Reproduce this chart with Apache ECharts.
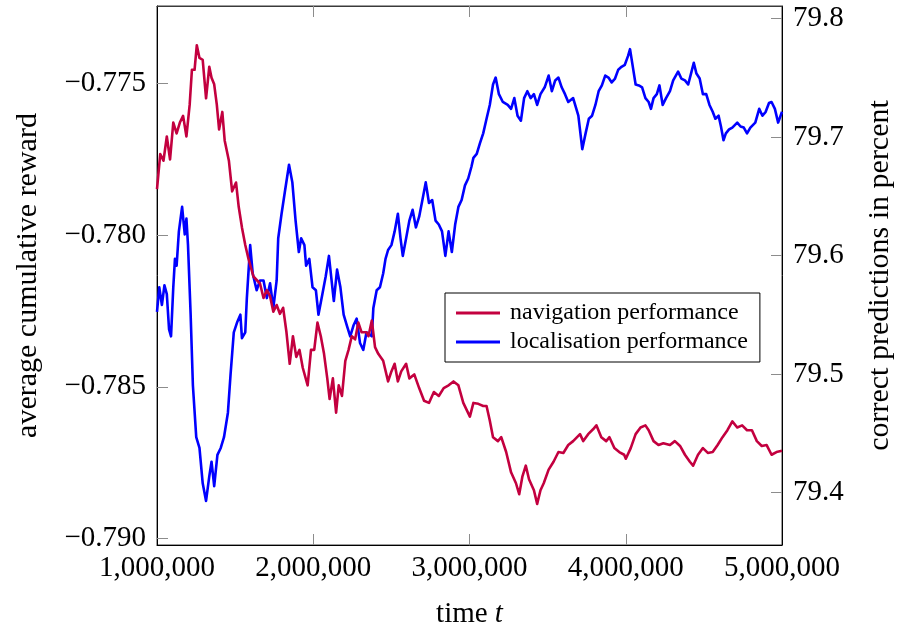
<!DOCTYPE html>
<html>
<head>
<meta charset="utf-8">
<script src="https://cdn.jsdelivr.net/npm/echarts@6/dist/echarts.min.js"></script>
<style>
  html, body { margin: 0; padding: 0; background: #fff; }
  #chart { width: 903px; height: 634px; }
</style>
</head>
<body>
<div id="chart"></div>
<script>
// Navigation performance: average cumulative reward over training time
const navTime = [
  1000000, 1020700, 1041400, 1062800, 1083500, 1104200, 1125500, 1146300, 1167000, 1188300,
  1209000, 1223500, 1240400, 1254800, 1271800, 1292500, 1313900, 1334600, 1349000, 1366000,
  1382900, 1397300, 1418000, 1433100, 1460100, 1480800, 1505900, 1522900, 1543600, 1564900,
  1585600, 1617000, 1659100, 1681700, 1703000, 1723700, 1744500, 1765800, 1786500, 1807200,
  1828600, 1849300, 1870000, 1891300, 1912000, 1932800, 1964100, 1985500, 2006200, 2026900,
  2048300, 2069000, 2089700, 2104800, 2125500, 2146200, 2163100, 2183800, 2205200, 2225900,
  2246600, 2268000, 2288700, 2309400, 2340800, 2353300, 2374700, 2395400, 2416100, 2447500,
  2478900, 2500200, 2520900, 2541600, 2563000, 2594400, 2615100, 2646500, 2677800, 2709200,
  2740600, 2772000, 2803400, 2834800, 2866200, 2897500, 2928900, 2960300, 3002400, 3025000,
  3056300, 3087700, 3109100, 3129800, 3150500, 3181900, 3203200, 3234600, 3266000, 3297400,
  3318100, 3338800, 3360200, 3380900, 3412300, 3433000, 3454300, 3475000, 3506400, 3537800,
  3569200, 3600600, 3632000, 3663300, 3707300, 3728000, 3759400, 3790800, 3812100, 3843500,
  3874900, 3895600, 3927000, 3958400, 3989700, 4000400, 4031800, 4063200, 4094600, 4125900,
  4146700, 4178000, 4209400, 4240800, 4282900, 4314300, 4347500, 4378900, 4410300, 4431000,
  4462400, 4493800, 4525200, 4556500, 4587900, 4619300, 4650700, 4682100, 4713500, 4744900,
  4776200, 4807600, 4839000, 4870400, 4901800, 4933200, 4964600, 5000000
];
const navReward = [
  -0.77848, -0.77732, -0.77754, -0.77674, -0.77750, -0.77628, -0.77664, -0.77628, -0.77606, -0.77674,
  -0.77570, -0.77454, -0.77454, -0.77373, -0.77415, -0.77421, -0.77548, -0.77444, -0.77480, -0.77502,
  -0.77570, -0.77651, -0.77593, -0.77687, -0.77754, -0.77855, -0.77826, -0.77906, -0.77974, -0.78032,
  -0.78078, -0.78136, -0.78159, -0.78207, -0.78181, -0.78201, -0.78252, -0.78230, -0.78259, -0.78239,
  -0.78320, -0.78424, -0.78333, -0.78401, -0.78378, -0.78437, -0.78495, -0.78378, -0.78378, -0.78288,
  -0.78333, -0.78391, -0.78472, -0.78540, -0.78472, -0.78585, -0.78495, -0.78530, -0.78414, -0.78378,
  -0.78333, -0.78343, -0.78288, -0.78320, -0.78320, -0.78333, -0.78281, -0.78369, -0.78391, -0.78414,
  -0.78482, -0.78449, -0.78424, -0.78482, -0.78449, -0.78424, -0.78472, -0.78459, -0.78504, -0.78546,
  -0.78553, -0.78517, -0.78530, -0.78504, -0.78495, -0.78482, -0.78495, -0.78553, -0.78598, -0.78553,
  -0.78556, -0.78563, -0.78563, -0.78611, -0.78666, -0.78679, -0.78666, -0.78715, -0.78782, -0.78818,
  -0.78854, -0.78795, -0.78760, -0.78805, -0.78841, -0.78886, -0.78841, -0.78818, -0.78773, -0.78747,
  -0.78715, -0.78718, -0.78692, -0.78679, -0.78656, -0.78679, -0.78656, -0.78640, -0.78627, -0.78666,
  -0.78679, -0.78666, -0.78702, -0.78715, -0.78724, -0.78737, -0.78702, -0.78656, -0.78634, -0.78627,
  -0.78643, -0.78679, -0.78692, -0.78686, -0.78692, -0.78679, -0.78695, -0.78724, -0.78747, -0.78760,
  -0.78724, -0.78702, -0.78718, -0.78715, -0.78692, -0.78666, -0.78643, -0.78614, -0.78634, -0.78627,
  -0.78643, -0.78643, -0.78679, -0.78695, -0.78692, -0.78724, -0.78715, -0.78711
];

// Localisation performance: correct predictions in percent
const locTime = [
  1000000, 1014400, 1031400, 1047700, 1062800, 1077200, 1089800, 1104200, 1114900, 1125500,
  1140000, 1160700, 1177600, 1188300, 1198400, 1215300, 1229700, 1251100, 1271800, 1292500,
  1313900, 1334600, 1349000, 1366000, 1386700, 1408000, 1428700, 1453800, 1470800, 1491500,
  1512200, 1533500, 1543600, 1564900, 1575000, 1596300, 1612600, 1637700, 1659100, 1681700,
  1703000, 1723700, 1744500, 1765800, 1775800, 1797200, 1817900, 1844900, 1866200, 1886900,
  1907700, 1922700, 1943400, 1954100, 1974800, 1995500, 2016900, 2033200, 2058300, 2079600,
  2100400, 2117300, 2131700, 2152500, 2173800, 2194500, 2215200, 2236600, 2257300, 2278000,
  2299300, 2320100, 2340800, 2374700, 2384700, 2406000, 2426800, 2447500, 2462500, 2478900,
  2500200, 2520900, 2541600, 2558600, 2573000, 2594400, 2615100, 2635800, 2657100, 2677800,
  2698600, 2719900, 2740600, 2761300, 2782700, 2803400, 2824100, 2845400, 2866200, 2886900,
  2908200, 2928900, 2949600, 2971000, 2991700, 3012400, 3025000, 3046300, 3067000, 3087700,
  3109100, 3129800, 3150500, 3167400, 3188200, 3213300, 3244700, 3266000, 3286700, 3307400,
  3328800, 3349500, 3370200, 3391500, 3412300, 3433000, 3454300, 3481300, 3506400, 3527100,
  3548500, 3569200, 3589900, 3611200, 3632000, 3663300, 3696600, 3721700, 3743000, 3763800,
  3784500, 3805800, 3826500, 3847200, 3868600, 3889300, 3910000, 3931400, 3952100, 3972800,
  3994100, 4014800, 4027400, 4048100, 4063200, 4083900, 4104600, 4125900, 4146700, 4161100,
  4178000, 4198800, 4215700, 4236400, 4257800, 4282900, 4303600, 4335000, 4355700, 4378900,
  4399600, 4421000, 4435400, 4452400, 4473100, 4493800, 4515100, 4535800, 4556500, 4573500,
  4594200, 4609300, 4625600, 4640700, 4661400, 4682100, 4713500, 4734800, 4755500, 4776200,
  4797600, 4829000, 4854100, 4874800, 4895500, 4916800, 4933200, 4954500, 4975200, 5000000
];
const locAccuracy = [
  79.5525, 79.5732, 79.5583, 79.5749, 79.5674, 79.5376, 79.5318, 79.5732, 79.5972, 79.5914,
  79.6204, 79.6411, 79.6179, 79.6312, 79.6088, 79.5501, 79.4905, 79.4466, 79.4375, 79.4077,
  79.3928, 79.4135, 79.4259, 79.4052, 79.4317, 79.4375, 79.4466, 79.4673, 79.4996, 79.5352,
  79.5434, 79.5501, 79.5302, 79.5352, 79.5641, 79.6088, 79.5848, 79.5707, 79.5790, 79.5790,
  79.5641, 79.5765, 79.5558, 79.5790, 79.6146, 79.6353, 79.6535, 79.6767, 79.6618, 79.6295,
  79.6030, 79.6146, 79.6088, 79.5914, 79.5972, 79.5732, 79.5707, 79.5501, 79.5674, 79.5823,
  79.5997, 79.5790, 79.5616, 79.5881, 79.5732, 79.5501, 79.5409, 79.5318, 79.5409, 79.5467,
  79.5261, 79.5203, 79.5352, 79.5318, 79.5558, 79.5707, 79.5732, 79.5848, 79.5972, 79.6047,
  79.6088, 79.6204, 79.6353, 79.6146, 79.5997, 79.6146, 79.6295, 79.6386, 79.6237, 79.6328,
  79.6469, 79.6618, 79.6444, 79.6469, 79.6295, 79.6262, 79.6204, 79.5997, 79.6204, 79.6030,
  79.6262, 79.6411, 79.6469, 79.6593, 79.6651, 79.6750, 79.6825, 79.6858, 79.6949, 79.7032,
  79.7156, 79.7272, 79.7445, 79.7503, 79.7363, 79.7297, 79.7272, 79.7239, 79.7330, 79.7181,
  79.7139, 79.7330, 79.7388, 79.7330, 79.7363, 79.7272, 79.7363, 79.7421, 79.7520, 79.7388,
  79.7479, 79.7503, 79.7421, 79.7363, 79.7297, 79.7330, 79.7181, 79.6899, 79.7032, 79.7156,
  79.7181, 79.7272, 79.7388, 79.7437, 79.7520, 79.7503, 79.7462, 79.7495, 79.7570, 79.7594,
  79.7611, 79.7686, 79.7743, 79.7570, 79.7445, 79.7437, 79.7421, 79.7330, 79.7297, 79.7239,
  79.7330, 79.7363, 79.7437, 79.7272, 79.7330, 79.7388, 79.7479, 79.7553, 79.7495, 79.7479,
  79.7445, 79.7553, 79.7628, 79.7537, 79.7495, 79.7363, 79.7363, 79.7272, 79.7214, 79.7156,
  79.7181, 79.7090, 79.6974, 79.7032, 79.7065, 79.7081, 79.7123, 79.7090, 79.7081, 79.7032,
  79.7081, 79.7123, 79.7239, 79.7181, 79.7214, 79.7288, 79.7297, 79.7239, 79.7123, 79.7214
];

// Axis ticks
const timeTicks = [1000000, 2000000, 3000000, 4000000, 5000000];
const rewardTicks = [-0.790, -0.785, -0.780, -0.775];
const accuracyTicks = [79.4, 79.5, 79.6, 79.7, 79.8];

const seriesNames = ['navigation performance', 'localisation performance'];

const FONT = '"Liberation Serif", "Times New Roman", serif';
const RED = '#C3003F';
const BLUE = '#0000FF';
const TICK_GREY = '#8c8c8c';

const zip = (xs, ys) => xs.map((x, i) => [x, ys[i]]);
const innerTimeTicks = timeTicks.slice(1, -1);

const chart = echarts.init(document.getElementById('chart'), null, { renderer: 'canvas' });

chart.setOption({
  animation: false,
  backgroundColor: '#ffffff',
  grid: {
    left: 157, right: 109, top: 6, bottom: 78,
    show: true, borderColor: '#3a3a3a', borderWidth: 1, backgroundColor: 'transparent'
  },
  legend: {
    data: seriesNames,
    orient: 'vertical',
    left: 445, top: 293,
    backgroundColor: '#ffffff',
    borderColor: '#000000', borderWidth: 1, borderRadius: 0,
    padding: [8, 12, 8, 11],
    itemGap: 5,
    itemWidth: 44, itemHeight: 3,
    icon: 'rect',
    textStyle: { fontFamily: FONT, fontSize: 24, lineHeight: 24, color: '#000', padding: [0, 0, 0, 5] }
  },
  xAxis: [
    {
      type: 'value', position: 'bottom',
      min: 1000000, max: 5000000, interval: 1000000,
      name: 'time {it|t}',
      nameLocation: 'middle', nameGap: 55,
      nameTextStyle: {
        fontFamily: FONT, fontSize: 29, color: '#000',
        rich: { it: { fontFamily: FONT, fontSize: 29, fontStyle: 'italic', color: '#000' } }
      },
      axisLine: { show: true, lineStyle: { color: '#000', width: 1 } },
      axisTick: { show: true, inside: true, length: 11, customValues: innerTimeTicks,
                  lineStyle: { color: TICK_GREY, width: 1 } },
      axisLabel: {
        show: true, margin: 9, fontFamily: FONT, fontSize: 29, color: '#000',
        customValues: timeTicks,
        formatter: v => Math.round(v).toLocaleString('en-US')
      },
      splitLine: { show: false }
    },
    {
      type: 'value', position: 'top',
      min: 1000000, max: 5000000, interval: 1000000,
      axisLine: { show: true, lineStyle: { color: '#3a3a3a', width: 1 } },
      axisTick: { show: true, inside: true, length: 11, customValues: innerTimeTicks,
                  lineStyle: { color: TICK_GREY, width: 1 } },
      axisLabel: { show: false },
      splitLine: { show: false }
    }
  ],
  yAxis: [
    {
      type: 'value', position: 'left',
      min: -0.790217, max: -0.772436,
      name: 'average cumulative reward',
      nameLocation: 'middle', nameGap: 114, nameRotate: 90,
      nameTextStyle: { fontFamily: FONT, fontSize: 30, color: '#000' },
      axisLine: { show: true, lineStyle: { color: '#000', width: 1 } },
      axisTick: { show: true, inside: true, length: 11, customValues: rewardTicks,
                  lineStyle: { color: TICK_GREY, width: 1 } },
      axisLabel: {
        show: true, margin: 11, fontFamily: FONT, fontSize: 29, color: '#000',
        customValues: rewardTicks,
        formatter: v => (v < 0 ? '\u2212' : '') + Math.abs(v).toFixed(3)
      },
      splitLine: { show: false }
    },
    {
      type: 'value', position: 'right',
      min: 79.35556, max: 79.81076,
      name: 'correct predictions in percent',
      nameLocation: 'middle', nameGap: 83, nameRotate: 90,
      nameTextStyle: { fontFamily: FONT, fontSize: 30, color: '#000' },
      axisLine: { show: true, lineStyle: { color: '#000', width: 1 } },
      axisTick: { show: true, inside: true, length: 11, customValues: accuracyTicks,
                  lineStyle: { color: TICK_GREY, width: 1 } },
      axisLabel: {
        show: true, margin: 11, fontFamily: FONT, fontSize: 29, color: '#000',
        customValues: accuracyTicks,
        formatter: v => v.toFixed(1)
      },
      splitLine: { show: false }
    }
  ],
  series: [
    {
      name: seriesNames[1],
      type: 'line',
      xAxisIndex: 0, yAxisIndex: 1,
      data: zip(locTime, locAccuracy),
      symbol: 'none', smooth: false,
      lineStyle: { color: BLUE, width: 2.6, join: 'round' },
      itemStyle: { color: BLUE },
      z: 2
    },
    {
      name: seriesNames[0],
      type: 'line',
      xAxisIndex: 0, yAxisIndex: 0,
      data: zip(navTime, navReward),
      symbol: 'none', smooth: false,
      lineStyle: { color: RED, width: 2.6, join: 'round' },
      itemStyle: { color: RED },
      z: 3
    }
  ]
});
</script>
</body>
</html>
